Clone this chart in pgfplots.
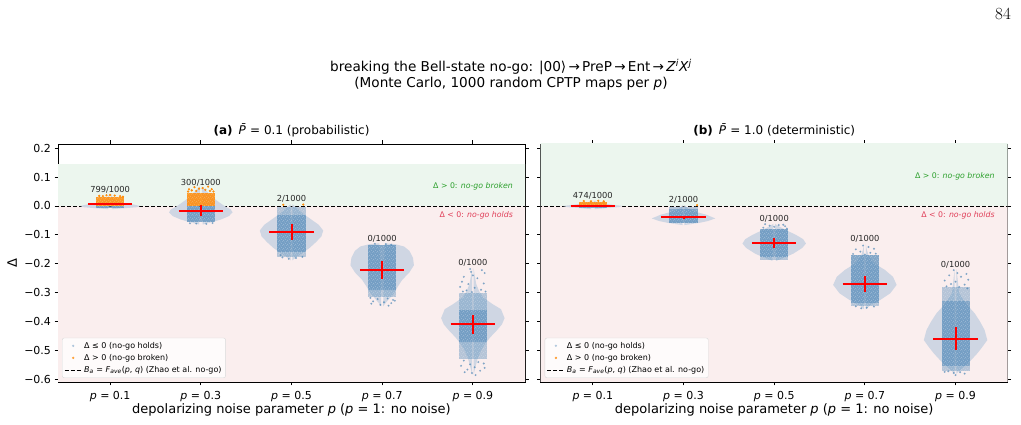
\documentclass[border=0pt]{standalone}
\usepackage{fontspec}
\setsansfont{DejaVu Sans}
\renewcommand{\familydefault}{\sfdefault}
\usepackage{pgfplots}
\pgfplotsset{compat=1.18}
\usepackage{pgfplotstable}
\usetikzlibrary{patterns}

\definecolor{steel}{RGB}{70,130,180}
\definecolor{dorange}{RGB}{255,140,10}
\definecolor{goodgreen}{RGB}{44,160,44}
\definecolor{badred}{RGB}{224,62,88}
\definecolor{bggreen}{RGB}{236,246,238}
\definecolor{bgred}{RGB}{250,238,238}
\definecolor{violinc}{RGB}{207,214,227}

% light speckle laid over the jittered clouds
\pgfdeclarepatternformonly{speckle}{\pgfqpoint{0pt}{0pt}}{\pgfqpoint{4.3pt}{4.3pt}}{\pgfqpoint{4.3pt}{4.3pt}}{%
  \pgfpathcircle{\pgfqpoint{0.7pt}{0.9pt}}{0.5pt}
  \pgfpathcircle{\pgfqpoint{2.8pt}{2.0pt}}{0.45pt}
  \pgfpathcircle{\pgfqpoint{1.5pt}{3.5pt}}{0.4pt}
  \pgfpathcircle{\pgfqpoint{3.8pt}{3.9pt}}{0.35pt}
  \pgfusepath{fill}}

% violin outlines: half width w (category units) at each Delta value y
\pgfplotstableread{
y w
0.040 0.01
0.020 0.04
0.010 0.14
0.005 0.26
0.000 0.33
-0.004 0.30
-0.008 0.15
-0.011 0.02
}\VaA
\pgfplotstableread{
y w
0.068 0.01
0.055 0.05
0.040 0.10
0.020 0.17
0.000 0.26
-0.012 0.33
-0.022 0.35
-0.035 0.31
-0.047 0.22
-0.056 0.12
-0.064 0.02
}\VaB
\pgfplotstableread{
y w
0.006 0.01
-0.005 0.05
-0.025 0.12
-0.045 0.21
-0.065 0.30
-0.085 0.35
-0.105 0.33
-0.125 0.27
-0.145 0.20
-0.165 0.11
-0.180 0.04
-0.188 0.01
}\VaC
\pgfplotstableread{
y w
-0.129 0.03
-0.132 0.14
-0.140 0.24
-0.155 0.30
-0.180 0.34
-0.205 0.35
-0.230 0.30
-0.256 0.22
-0.280 0.17
-0.302 0.13
-0.320 0.08
-0.333 0.045
-0.347 0.01
}\VaD
\pgfplotstableread{
y w
-0.214 0.008
-0.240 0.02
-0.270 0.037
-0.295 0.07
-0.316 0.11
-0.340 0.22
-0.357 0.31
-0.388 0.35
-0.410 0.32
-0.432 0.26
-0.455 0.19
-0.479 0.13
-0.500 0.09
-0.526 0.055
-0.555 0.03
-0.584 0.008
}\VaE

\pgfplotstableread{
y w
0.018 0.01
0.010 0.08
0.004 0.22
0.000 0.33
-0.004 0.28
-0.008 0.12
-0.011 0.02
}\VbA
\pgfplotstableread{
y w
0.003 0.01
-0.010 0.05
-0.020 0.13
-0.030 0.25
-0.043 0.35
-0.052 0.27
-0.058 0.18
-0.063 0.08
-0.066 0.01
}\VbB
\pgfplotstableread{
y w
-0.062 0.01
-0.070 0.05
-0.085 0.14
-0.100 0.24
-0.115 0.32
-0.130 0.35
-0.145 0.31
-0.165 0.21
-0.180 0.10
-0.190 0.02
}\VbC
\pgfplotstableread{
y w
-0.131 0.01
-0.150 0.02
-0.175 0.045
-0.198 0.10
-0.221 0.22
-0.245 0.31
-0.273 0.35
-0.302 0.28
-0.325 0.17
-0.345 0.055
-0.357 0.01
}\VbD
\pgfplotstableread{
y w
-0.219 0.01
-0.260 0.025
-0.302 0.04
-0.340 0.12
-0.371 0.21
-0.400 0.27
-0.429 0.32
-0.464 0.35
-0.490 0.29
-0.510 0.24
-0.544 0.14
-0.565 0.06
-0.580 0.01
}\VbE

% each violin is filled as a right half and a left half about its centre
\newcommand{\violin}[2]{%
  \addplot[fill=violinc, draw=none, forget plot] table[x expr={#1+\thisrow{w}}, y=y] {#2};
  \addplot[fill=violinc, draw=none, forget plot] table[x expr={#1-\thisrow{w}}, y=y] {#2};
}
% jittered cloud drawn as a band: x1 x2 ytop ybottom style
\newcommand{\band}[5]{%
  \addplot[#5, draw=none, forget plot] coordinates {(#1,#3) (#2,#3) (#2,#4) (#1,#4)};
}

\tikzset{
  ann/.style={font=\fontsize{8.3}{10}\selectfont, text=black!85},
}
\pgfplotsset{
  panel/.style={
    scale only axis, width=467pt, height=238pt,
    xmin=-0.575, xmax=4.575, ymin=-0.609, ymax=0.2145,
    xtick={0,1,2,3,4},
    xticklabels={\textit{p} = 0.1, \textit{p} = 0.3, \textit{p} = 0.5, \textit{p} = 0.7, \textit{p} = 0.9},
    ytick={-0.6,-0.5,-0.4,-0.3,-0.2,-0.1,0,0.1,0.2},
    tick align=outside, major tick length=3.5pt,
    tick style={black, line width=0.8pt},
    axis line style={line width=0.8pt},
    xticklabel style={font=\fontsize{11}{13}\selectfont, anchor=base, yshift=-14pt},
    yticklabel style={font=\fontsize{11}{13}\selectfont},
    xlabel={depolarizing noise parameter \textit{p} (\textit{p} = 1: no noise)},
    xlabel style={font=\fontsize{13}{15}\selectfont, at={(axis description cs:0.5,0)}, anchor=base, yshift=-32pt},
    title style={font=\fontsize{12}{14}\selectfont, at={(axis description cs:0.5,1)}, anchor=base, yshift=3pt},
    legend style={at={(0.0086,0.017)}, anchor=south west,
      font=\fontsize{8}{9.5}\selectfont, draw=black!15, fill=white,
      fill opacity=0.8, text opacity=1, rounded corners=2pt,
      inner sep=2pt, row sep=0.5pt},
    legend cell align=left,
  },
  dense/.style={fill=steel, fill opacity=0.66,
    postaction={pattern=speckle, pattern color=white, fill opacity=0.45}},
  medium/.style={fill=steel, fill opacity=0.38,
    postaction={pattern=speckle, pattern color=white, fill opacity=0.4}},
  orng/.style={fill=dorange, fill opacity=0.88,
    postaction={pattern=speckle, pattern color=white, fill opacity=0.35}},
  sparse/.style={only marks, mark=*, mark size=0.8pt, steel, opacity=0.5, forget plot},
  sparseo/.style={only marks, mark=*, mark size=0.9pt, dorange, forget plot},
  cross/.style={red, line width=2pt, unbounded coords=jump, forget plot},
  zero/.style={black, line width=0.9pt, dash pattern=on 4pt off 2pt},
}

\begin{document}
\begin{tikzpicture}
\path[use as bounding box] (0pt,0pt) rectangle (1021pt,425pt);

\node[font=\rmfamily\fontsize{17}{20}\selectfont] at (1003pt,411pt) {84};
\node[font=\fontsize{13.6}{16}\selectfont] at (511pt,358pt) {breaking the Bell-state no-go: |00⟩\,→\,PreP\,→\,Ent\,→\,\textit{Z}\textsuperscript{\textit{i}}\textit{X}\textsuperscript{\textit{j}}};
\node[font=\fontsize{13.6}{16}\selectfont] at (511pt,341pt) {(Monte Carlo, 1000 random CPTP maps per \textit{p})};

% ---------------- (a) probabilistic ----------------
\begin{axis}[panel, at={(58pt,43pt)}, anchor=south west,
  yticklabels={−0.6,−0.5,−0.4,−0.3,−0.2,−0.1,0.0,0.1,0.2},
  ylabel={Δ}, ylabel style={font=\fontsize{13}{15}\selectfont, at={(axis description cs:-0.098,0.5)}, anchor=center},
  title={\textbf{(a)}\enspace\textit{\=P} = 0.1 (probabilistic)}]
\addplot[fill=bggreen, draw=none, forget plot] coordinates {(-1,0) (6,0) (6,0.145) (-1,0.145)};
\addplot[fill=bgred, draw=none, forget plot] coordinates {(-1,0) (6,0) (6,-0.7) (-1,-0.7)};
\addplot[zero, forget plot] coordinates {(-1,0) (6,0)};

\violin{0}{\VaA}
\violin{1}{\VaB}
\violin{2}{\VaC}
\violin{3}{\VaD}
\violin{4}{\VaE}

\band{-0.155}{0.155}{0.0}{-0.008}{dense}
\band{-0.155}{0.155}{0.030}{0.0}{orng}
\band{0.845}{1.155}{0.0}{-0.056}{dense}
\band{0.845}{1.155}{0.046}{0.0}{orng}
\band{1.845}{2.155}{-0.004}{-0.030}{medium}
\band{1.845}{2.155}{-0.030}{-0.160}{dense}
\band{1.845}{2.155}{-0.160}{-0.175}{medium}
\band{2.845}{3.155}{-0.135}{-0.290}{dense}
\band{2.845}{3.155}{-0.290}{-0.315}{medium}
\band{3.845}{4.155}{-0.300}{-0.360}{medium}
\band{3.845}{4.155}{-0.360}{-0.470}{dense}
\band{3.845}{4.155}{-0.470}{-0.530}{medium}

\addplot[sparseo] coordinates {(-0.12,0.035) (-0.04,0.037) (0.05,0.036) (0.11,0.034) (0.0,0.038) (-0.08,0.034) (0.14,0.032)
  (0.87,0.058) (0.93,0.065) (1.02,0.062) (1.08,0.067) (1.12,0.058) (0.98,0.060) (0.90,0.054) (1.05,0.056) (0.86,0.050) (1.14,0.050) (0.95,0.052) (1.10,0.052)
  (1.91,0.004) (2.13,0.005)};
\addplot[sparse] coordinates {(0.88,-0.060) (1.06,-0.062) (1.13,-0.059) (0.95,-0.061)
  (1.88,-0.170) (1.90,-0.178) (2.05,-0.180) (2.12,-0.176) (1.97,-0.183)
  (2.92,-0.131) (3.04,-0.132) (3.10,-0.134)
  (2.87,-0.318) (2.95,-0.322) (3.06,-0.320) (3.12,-0.325) (2.90,-0.330) (3.02,-0.333) (3.10,-0.336) (2.88,-0.338) (2.98,-0.342) (3.07,-0.345) (3.14,-0.328)
  (3.97,-0.218) (4.10,-0.222) (4.13,-0.232) (3.90,-0.245) (4.05,-0.250) (3.88,-0.262) (3.95,-0.270) (4.12,-0.268) (3.86,-0.280) (4.02,-0.283) (4.09,-0.290) (3.93,-0.292) (3.99,-0.298) (4.14,-0.296) (3.89,-0.296) (4.00,-0.240) (3.98,-0.228)
  (3.90,-0.535) (4.06,-0.540) (3.97,-0.548) (4.12,-0.545) (3.87,-0.553) (4.02,-0.558) (3.94,-0.566) (4.08,-0.570) (3.99,-0.578) (4.03,-0.585) (3.91,-0.575) (4.13,-0.560)};

% mean (horizontal bar) and spread (vertical bar) for each p
\addplot[cross] table[row sep=\\] {
x y\\
-0.245 0.008\\ 0.245 0.008\\ nan nan\\ 0 0.004\\ 0 0.012\\ nan nan\\
0.755 -0.016\\ 1.245 -0.016\\ nan nan\\ 1 -0.036\\ 1 0.004\\ nan nan\\
1.755 -0.090\\ 2.245 -0.090\\ nan nan\\ 2 -0.118\\ 2 -0.062\\ nan nan\\
2.755 -0.221\\ 3.245 -0.221\\ nan nan\\ 3 -0.253\\ 3 -0.189\\ nan nan\\
3.755 -0.410\\ 4.245 -0.410\\ nan nan\\ 4 -0.443\\ 4 -0.377\\
};

\node[ann] at (axis cs:0,0.055) {799/1000};
\node[ann] at (axis cs:1,0.081) {300/1000};
\node[ann] at (axis cs:2,0.024) {2/1000};
\node[ann] at (axis cs:3,-0.112) {0/1000};
\node[ann] at (axis cs:4,-0.196) {0/1000};
\node[anchor=east, text=goodgreen, font=\fontsize{7.8}{9}\selectfont] at (axis cs:4.48,0.069) {Δ > 0: \textit{no-go broken}};
\node[anchor=east, text=badred, font=\fontsize{7.8}{9}\selectfont] at (axis cs:4.48,-0.031) {Δ < 0: \textit{no-go holds}};

\addlegendimage{only marks, mark=*, mark size=1pt, steel, opacity=0.3}
\addlegendentry{Δ ≤ 0 (no-go holds)}
\addlegendimage{only marks, mark=*, mark size=1pt, dorange, opacity=0.7}
\addlegendentry{Δ > 0 (no-go broken)}
\addlegendimage{zero}
\addlegendentry{\textit{B}\textsubscript{\textit{a}} = \textit{F}\textsubscript{\textit{ave}}(\textit{p}, \textit{q}) (Zhao et al. no-go)}
\end{axis}

% ---------------- (b) deterministic ----------------
\begin{axis}[panel, at={(540.7pt,43pt)}, anchor=south west,
  yticklabels={},
  title={\textbf{(b)}\enspace\textit{\=P} = 1.0 (deterministic)}]
\addplot[fill=bggreen, draw=none, forget plot] coordinates {(-1,0) (6,0) (6,0.3) (-1,0.3)};
\addplot[fill=bgred, draw=none, forget plot] coordinates {(-1,0) (6,0) (6,-0.7) (-1,-0.7)};
\addplot[zero, forget plot] coordinates {(-1,0) (6,0)};

\violin{0}{\VbA}
\violin{1}{\VbB}
\violin{2}{\VbC}
\violin{3}{\VbD}
\violin{4}{\VbE}

\band{-0.155}{0.155}{0.0}{-0.008}{dense}
\band{-0.155}{0.155}{0.014}{0.0}{orng}
\band{0.845}{1.155}{-0.003}{-0.012}{medium}
\band{0.845}{1.155}{-0.012}{-0.060}{dense}
\band{1.845}{2.155}{-0.080}{-0.175}{dense}
\band{1.845}{2.155}{-0.175}{-0.188}{medium}
\band{2.845}{3.155}{-0.170}{-0.335}{dense}
\band{2.845}{3.155}{-0.335}{-0.345}{medium}
\band{3.845}{4.155}{-0.280}{-0.330}{medium}
\band{3.845}{4.155}{-0.330}{-0.555}{dense}
\band{3.845}{4.155}{-0.555}{-0.570}{medium}

\addplot[sparseo] coordinates {(-0.10,0.017) (0.06,0.018) (-0.02,0.016) (0.12,0.016) (1.15,0.003)};
\addplot[sparse] coordinates {(1.90,-0.063) (1.95,-0.068) (2.05,-0.066) (2.12,-0.070) (2.10,-0.065) (1.88,-0.075) (2.00,-0.072) (2.14,-0.078)
  (2.98,-0.137) (3.04,-0.142) (2.90,-0.150) (3.10,-0.148) (2.95,-0.158) (3.06,-0.162) (2.87,-0.166) (3.12,-0.165) (3.00,-0.168)
  (2.90,-0.347) (3.02,-0.352) (3.10,-0.348) (2.96,-0.354)
  (3.98,-0.222) (4.12,-0.235) (3.93,-0.240) (4.06,-0.245) (4.14,-0.255) (3.88,-0.258) (4.00,-0.262) (3.95,-0.270) (4.10,-0.272) (3.90,-0.278) (4.04,-0.280) (4.13,-0.285) (4.02,-0.232)
  (3.92,-0.572) (4.05,-0.575) (3.98,-0.578) (4.10,-0.580) (4.00,-0.585) (3.88,-0.574)};

\addplot[cross] table[row sep=\\] {
x y\\
-0.245 0.001\\ 0.245 0.001\\ nan nan\\ 0 -0.002\\ 0 0.004\\ nan nan\\
0.755 -0.039\\ 1.245 -0.039\\ nan nan\\ 1 -0.045\\ 1 -0.033\\ nan nan\\
1.755 -0.129\\ 2.245 -0.129\\ nan nan\\ 2 -0.147\\ 2 -0.111\\ nan nan\\
2.755 -0.270\\ 3.245 -0.270\\ nan nan\\ 3 -0.298\\ 3 -0.242\\ nan nan\\
3.755 -0.459\\ 4.245 -0.459\\ nan nan\\ 4 -0.499\\ 4 -0.419\\
};

\node[ann] at (axis cs:0,0.035) {474/1000};
\node[ann] at (axis cs:1,0.021) {2/1000};
\node[ann] at (axis cs:2,-0.045) {0/1000};
\node[ann] at (axis cs:3,-0.112) {0/1000};
\node[ann] at (axis cs:4,-0.202) {0/1000};
\node[anchor=east, text=goodgreen, font=\fontsize{7.8}{9}\selectfont] at (axis cs:4.47,0.101) {Δ > 0: \textit{no-go broken}};
\node[anchor=east, text=badred, font=\fontsize{7.8}{9}\selectfont] at (axis cs:4.47,-0.031) {Δ < 0: \textit{no-go holds}};

\addlegendimage{only marks, mark=*, mark size=1pt, steel, opacity=0.3}
\addlegendentry{Δ ≤ 0 (no-go holds)}
\addlegendimage{only marks, mark=*, mark size=1pt, dorange, opacity=0.7}
\addlegendentry{Δ > 0 (no-go broken)}
\addlegendimage{zero}
\addlegendentry{\textit{B}\textsubscript{\textit{a}} = \textit{F}\textsubscript{\textit{ave}}(\textit{p}, \textit{q}) (Zhao et al. no-go)}
\end{axis}
\end{tikzpicture}
\end{document}
